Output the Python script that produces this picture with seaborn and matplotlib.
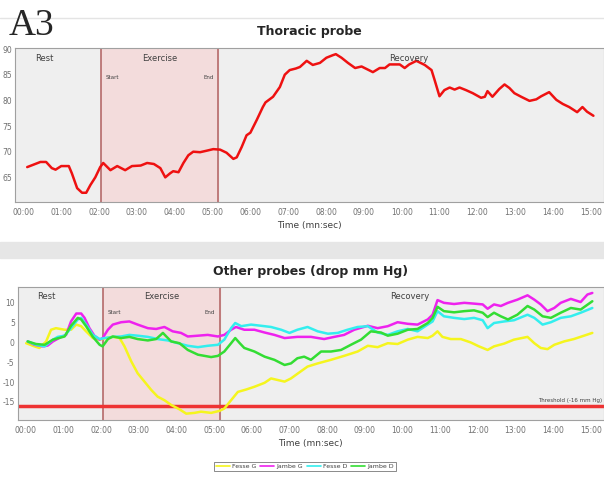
"""
Thoracic probe / other probes: pressure curves during rest, exercise, recovery.
"""

import matplotlib
matplotlib.use("Agg")
import matplotlib.pyplot as plt
from matplotlib.patches import Rectangle
from matplotlib.lines import Line2D
import seaborn as sns
import pandas as pd

# =========================
# Data (time in minutes)
# =========================

phases = ["Rest", "Exercise", "Recovery"]
ex_start, ex_end = 2.05, 5.15
threshold = -16

tick_min = list(range(0, 16))
tick_labels = [f"{m:02d}:00" for m in tick_min]

thor_t = [0.1, 0.45, 0.6, 0.75, 0.85, 1.0, 1.2, 1.28, 1.42, 1.55, 1.66, 1.77, 1.9,
          2.03, 2.11, 2.3, 2.48, 2.69, 2.87, 3.1, 3.27, 3.45, 3.62, 3.75, 3.88, 3.96,
          4.1, 4.23, 4.36, 4.49, 4.67, 4.85, 5.02, 5.2, 5.37, 5.55, 5.64, 5.77, 5.9,
          6.0, 6.17, 6.33, 6.4, 6.6, 6.78, 6.91, 7.04, 7.2, 7.31, 7.49, 7.65, 7.84,
          8.01, 8.18, 8.26, 8.41, 8.58, 8.77, 8.94, 9.24, 9.42, 9.56, 9.68, 9.95,
          10.08, 10.2, 10.39, 10.61, 10.79, 10.87, 11.0, 11.13, 11.27, 11.4, 11.53,
          11.7, 11.88, 12.1, 12.2, 12.27, 12.4, 12.58, 12.72, 12.85, 12.98, 13.16,
          13.38, 13.56, 13.69, 13.9, 14.09, 14.26, 14.43, 14.64, 14.78, 14.9, 15.07]
thor_v = [67.0, 68.0, 68.0, 66.8, 66.5, 67.2, 67.2, 65.8, 62.9, 62.0, 62.0, 63.5, 65.0,
          67.0, 67.8, 66.4, 67.2, 66.4, 67.2, 67.3, 67.8, 67.6, 66.8, 65.0, 65.8, 66.2,
          66.0, 67.8, 69.3, 70.0, 69.9, 70.2, 70.5, 70.4, 69.8, 68.6, 68.9, 70.9, 73.2,
          73.7, 76.2, 78.7, 79.6, 80.7, 82.6, 85.0, 85.9, 86.2, 86.5, 87.7, 86.9, 87.3,
          88.3, 88.8, 89.0, 88.3, 87.3, 86.3, 86.6, 85.5, 86.3, 86.3, 87.0, 87.0,
          86.3, 87.0, 87.7, 86.9, 85.9, 84.0, 80.8, 82.0, 82.5, 82.1, 82.5,
          82.0, 81.4, 80.5, 80.7, 81.8, 80.7, 82.2, 83.1, 82.4, 81.4, 80.7,
          79.9, 80.2, 80.8, 81.6, 80.1, 79.3, 78.7, 77.7, 78.7, 77.8, 77.0]

fesse_g_t = [0.01, 0.23, 0.36, 0.54, 0.67, 0.8, 1.03, 1.2, 1.34, 1.47, 1.6, 1.78, 1.96,
             2.13, 2.31, 2.49, 2.62, 2.8, 2.97, 3.15, 3.33, 3.5, 3.68, 3.86, 4.08, 4.26,
             4.48, 4.65, 4.92, 5.14, 5.27, 5.45, 5.63, 5.85, 6.07, 6.34, 6.51, 6.69,
             6.87, 7.04, 7.2, 7.48, 7.75, 8.1, 8.45, 8.81, 9.08, 9.34, 9.61, 9.87,
             10.14, 10.4, 10.67, 10.8, 10.93, 11.06, 11.28, 11.55, 11.81, 12.03, 12.26,
             12.43, 12.7, 12.96, 13.32, 13.5, 13.67, 13.85, 14.03, 14.29, 14.55, 14.82,
             15.04]
fesse_g_v = [-0.2, -1.0, -1.4, 0.25, 3.2, 3.6, 3.2, 3.2, 4.5, 4.1, 2.8, 1.1, 0.7,
             1.1, 1.4, 1.1, -1.0, -4.8, -7.8, -9.9, -12.0, -13.7, -14.6, -15.8, -16.9, -18.0,
             -17.8, -17.5, -17.8, -17.3, -16.7, -14.6, -12.5, -11.9, -11.2, -10.2, -9.1, -9.5,
             -9.9, -9.1, -8.0, -6.1, -5.3, -4.4, -3.4, -2.3, -0.85, -1.2, -0.2, -0.4,
             0.7, 1.4, 1.1, 1.7, 2.8, 1.4, 0.85, 0.85, 0.0, -1.0, -1.9,
             -1.0, -0.3, 0.7, 1.4, -0.2, -1.4, -1.7, -0.6, 0.25, 0.85, 1.7,
             2.4]

jambe_g_t = [0.05, 0.23, 0.45, 0.58, 0.72, 0.94, 1.07, 1.2, 1.34, 1.47, 1.56, 1.69, 1.82,
             1.96, 2.04, 2.18, 2.31, 2.53, 2.75, 2.97, 3.24, 3.46, 3.68, 3.9, 4.12, 4.3,
             4.57, 4.83, 5.1, 5.27, 5.45, 5.58, 5.8, 6.07, 6.34, 6.6, 6.87, 7.21, 7.57,
             7.92, 8.19, 8.45, 8.72, 9.08, 9.34, 9.61, 9.87, 10.14, 10.4, 10.67, 10.8,
             10.93, 11.1, 11.37, 11.64, 11.9, 12.13, 12.26, 12.43, 12.61, 12.8, 13.05,
             13.32, 13.5, 13.67, 13.85, 14.03, 14.2, 14.47, 14.73, 14.91, 15.04]
jambe_g_v = [0.25, -0.6, -1.0, -0.8, 0.25, 1.4, 1.9, 5.3, 7.3, 7.3, 6.2, 3.6, 1.7,
             0.7, 1.1, 3.2, 4.5, 5.1, 5.3, 4.5, 3.6, 3.4, 3.9, 2.8, 2.4, 1.5,
             1.7, 1.9, 1.5, 1.9, 3.2, 3.9, 3.2, 3.2, 2.5, 1.9, 1.1, 1.4, 1.4,
             0.85, 1.4, 1.9, 3.2, 4.2, 3.6, 4.1, 5.1, 4.7, 4.5, 5.8, 7.0,
             10.7, 10.0, 9.7, 10.0, 9.8, 9.6, 8.5, 9.6, 9.2, 10.0, 10.8,
             11.9, 10.8, 9.6, 7.9, 8.7, 10.0, 11.0, 10.2, 12.1, 12.5]

fesse_d_t = [0.05, 0.27, 0.5, 0.72, 0.85, 1.03, 1.2, 1.38, 1.47, 1.6, 1.78, 1.96, 2.09,
             2.31, 2.53, 2.75, 2.97, 3.24, 3.5, 3.77, 4.04, 4.3, 4.57, 4.83, 5.1, 5.27,
             5.45, 5.56, 5.72, 5.98, 6.25, 6.51, 6.78, 7.0, 7.21, 7.48, 7.75, 8.02,
             8.28, 8.54, 8.81, 9.08, 9.34, 9.61, 9.87, 10.14, 10.4, 10.67, 10.8, 10.93,
             11.1, 11.37, 11.64, 11.9, 12.13, 12.26, 12.43, 12.7, 12.96, 13.32, 13.5,
             13.72, 13.94, 14.2, 14.47, 14.73, 15.04]
fesse_d_v = [0.25, -0.6, -1.0, 0.7, 1.4, 1.7, 3.6, 5.8, 6.2, 4.5, 1.9, 0.85, 1.1,
             1.4, 1.5, 1.9, 1.7, 1.4, 0.85, 0.5, -0.2, -0.85, -1.2, -0.85, -0.6, 0.7,
             3.6, 4.9, 4.1, 4.5, 4.2, 3.9, 3.2, 2.4, 3.2, 3.9, 2.8, 2.2,
             2.4, 3.2, 3.9, 4.1, 2.5, 1.9, 2.8, 3.4, 2.8, 4.5, 5.3, 7.9,
             6.6, 6.2, 5.9, 6.2, 5.6, 3.6, 4.9, 5.3, 5.6, 7.0, 6.2,
             4.5, 5.1, 6.2, 6.6, 7.5, 8.7]

jambe_d_t = [0.05, 0.27, 0.5, 0.72, 1.03, 1.2, 1.38, 1.47, 1.6, 1.78, 1.96, 2.04, 2.18,
             2.31, 2.53, 2.75, 2.97, 3.24, 3.46, 3.64, 3.73, 3.86, 4.08, 4.3, 4.57, 4.92,
             5.1, 5.27, 5.45, 5.56, 5.68, 5.8, 6.07, 6.34, 6.6, 6.87, 7.04, 7.21, 7.39,
             7.57, 7.84, 8.1, 8.37, 8.63, 8.9, 9.16, 9.43, 9.61, 9.87, 10.14, 10.4,
             10.67, 10.8, 10.93, 11.1, 11.37, 11.64, 11.9, 12.13, 12.26, 12.43, 12.61,
             12.8, 13.05, 13.32, 13.5, 13.72, 13.94, 14.2, 14.47, 14.73, 15.04]
jambe_d_v = [0.25, -0.4, -0.6, 0.7, 1.5, 4.2, 6.2, 5.8, 4.1, 1.4, -0.6, -1.0, 0.85,
             1.5, 1.1, 1.4, 0.85, 0.5, 0.85, 2.4, 1.5, 0.25, -0.2, -1.9, -3.1, -3.7,
             -3.4, -2.3, -0.2, 1.1, -0.2, -1.4, -2.3, -3.6, -4.4, -5.7, -5.3, -4.0, -3.6,
             -4.4, -2.3, -2.3, -1.9, -0.6, 0.7, 2.8, 2.5, 1.7, 2.2, 3.2, 3.4,
             4.9, 6.2, 9.0, 7.9, 7.6, 7.9, 8.1, 7.5, 6.4, 7.5, 6.6,
             5.8, 7.0, 9.2, 8.3, 6.6, 6.2, 7.5, 8.7, 8.3, 10.4]

probes = ["Fesse G", "Jambe G", "Fesse D", "Jambe D"]
probe_colors = ["#f5f51e", "#ee22ee", "#33eeee", "#33dd33"]

# table needed by seaborn
df_other = pd.concat([
    pd.DataFrame({"t": t, "v": v, "probe": name})
    for name, t, v in zip(probes,
                          [fesse_g_t, jambe_g_t, fesse_d_t, jambe_d_t],
                          [fesse_g_v, jambe_g_v, fesse_d_v, jambe_d_v])
])
df_thor = pd.DataFrame({"t": thor_t, "v": thor_v})

# =========================
# Figure
# =========================

sns.set_style("white")
plt.rcParams["font.family"] = ["DejaVu Sans"]

fig = plt.figure(figsize=(6.04, 4.79), dpi=100)
gris_txt = "#707070"
fondo = "#efefef"
ex_color = "#f3dcdc"
ex_line = "#b06060"

# bandas grises de la interfaz
fig.patches.append(Rectangle((0, 1 - 258 / 479), 1, 16 / 479, transform=fig.transFigure,
                             color="#e6e6e6", zorder=0))
fig.add_artist(Line2D([0, 1], [1 - 18 / 479] * 2, color="#e4e4e4", lw=1))

fig.text(0.015, 0.982, "A3", fontsize=27, family="Liberation Serif", va="top")

ax1 = fig.add_axes([0.025, 1 - 202 / 479, 0.975, 154 / 479])
ax2 = fig.add_axes([0.029, 1 - 420 / 479, 0.971, 133 / 479])


def decorar(ax, ylim, yticks, titulo):
    ax.set_facecolor(fondo)
    ax.set_xlim(-0.22, 15.35)
    ax.set_ylim(*ylim)
    ax.axvspan(ex_start, ex_end, color=ex_color, zorder=0)
    for x in (ex_start, ex_end):
        ax.axvline(x, color=ex_line, lw=1.1, zorder=1)
    ax.set_xticks(tick_min)
    ax.set_xticklabels(tick_labels)
    ax.set_yticks(yticks)
    ax.set_yticklabels([str(y) for y in yticks])
    ax.tick_params(axis="both", labelsize=5.5, colors=gris_txt, length=0, pad=4)
    ax.tick_params(axis="y", pad=2)
    for s in ax.spines.values():
        s.set_color("#a0a0a0")
        s.set_linewidth(0.8)
    ax.set_xlabel("Time (mn:sec)", fontsize=6.5, color="#404040", labelpad=3)
    ax.set_ylabel("")
    ax.set_title(titulo, fontsize=9, fontweight="bold", pad=9)
    # etiquetas de fases
    ytop = ylim[1] - (ylim[1] - ylim[0]) * 0.07
    ax.text(0.55, ytop, phases[0], fontsize=6, color="#404040", ha="center", va="center")
    ax.text(3.6, ytop, phases[1], fontsize=6, color="#404040", ha="center", va="center")
    ax.text(10.2, ytop, phases[2], fontsize=6, color="#404040", ha="center", va="center")
    ysub = ylim[1] - (ylim[1] - ylim[0]) * 0.19
    ax.text(ex_start + 0.12, ysub, "Start", fontsize=4, color="#404040", va="center")
    ax.text(ex_end - 0.12, ysub, "End", fontsize=4, color="#404040", va="center", ha="right")


# --- Thoracic probe ---
sns.lineplot(data=df_thor, x="t", y="v", ax=ax1, color="#ee1111", lw=1.8, zorder=3)
decorar(ax1, (60.2, 90.2), [65, 70, 75, 80, 85, 90], "Thoracic probe")

# --- Other probes ---
sns.lineplot(data=df_other, x="t", y="v", hue="probe", hue_order=probes,
             palette=probe_colors, ax=ax2, lw=1.8, zorder=3, sort=False)
ax2.axhline(threshold, color="#ee3333", lw=2.5, zorder=2)
ax2.text(15.3, threshold + 0.6, f"Threshold (-{abs(threshold)} mm Hg)", fontsize=4,
         color="#404040", ha="right", va="bottom")
decorar(ax2, (-19.6, 14.0), [-15, -10, -5, 0, 5, 10], "Other probes (drop mm Hg)")

leg = ax2.legend(loc="upper center", bbox_to_anchor=(0.49, -0.29), ncol=4, fontsize=4.5,
                 frameon=True, fancybox=False, handlelength=2.2, handletextpad=0.4,
                 columnspacing=0.6, borderpad=0.35)
leg.get_frame().set_edgecolor("#555555")
leg.get_frame().set_linewidth(0.6)
for txt in leg.get_texts():
    txt.set_color("#404040")
for ln in leg.get_lines():
    ln.set_linewidth(1.2)

fig.savefig("out.png", dpi=100)
